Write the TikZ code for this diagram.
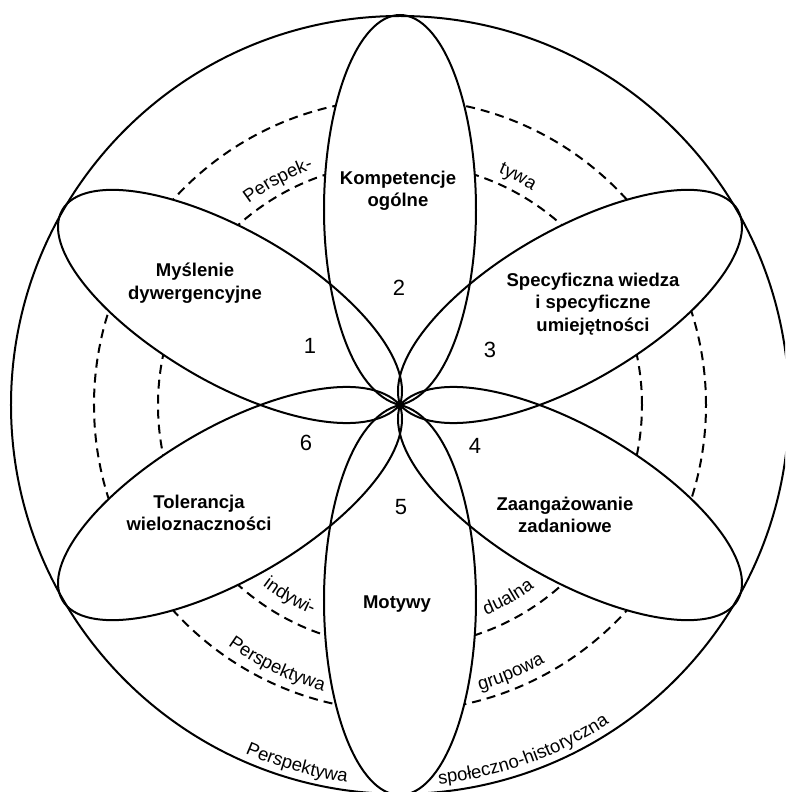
\documentclass[tikz,border=0pt]{standalone}
\usepackage{fontspec}
\setmainfont{Liberation Sans}
\usetikzlibrary{decorations.text}
\newcommand\petalfont{\fontsize{18.5}{22.5}\selectfont\bfseries}
\newcommand\numfont{\fontsize{22}{26}\selectfont}
\newcommand\arcfont{\fontsize{18.5}{22}\selectfont}
\begin{document}
\begin{tikzpicture}[x=1pt,y=1pt,
  line width=2pt,
  ring/.style={line width=2pt, dash pattern=on 9pt off 6pt},
  petal/.style={line width=2pt},
  lbl/.style={font=\petalfont, align=center, inner sep=0pt},
  num/.style={font=\numfont, inner sep=0pt},
  arctext/.style={decorate, decoration={text along path, text align=center, text={|\arcfont|#1}}}
]
\useasboundingbox (-400,-387) rectangle (385,405);
\clip (-400,-387) rectangle (385,405);
\fill[white] (-400,-387) rectangle (385,405);
% dashed rings
\draw[ring] (0,0) circle[radius=306];
\draw[ring] (0,0) circle[radius=242];
% petals (pointed at the centre, rounded at the outer end)
\foreach \a in {0,-60,-120,180,120,60}
  \fill[white, rotate=\a] (0,0) .. controls (-48.7,11.2) and (-76,105) .. (-76,195)
     arc[start angle=180, end angle=0, x radius=76, y radius=195]
     .. controls (76,105) and (48.7,11.2) .. (0,0) -- cycle;
\foreach \a in {0,-60,-120,180,120,60}
  \draw[petal, rotate=\a] (0,0) .. controls (-48.7,11.2) and (-76,105) .. (-76,195)
     arc[start angle=180, end angle=0, x radius=76, y radius=195]
     .. controls (76,105) and (48.7,11.2) .. (0,0) -- cycle;
% outer circle
\draw (0,0) circle[radius=389];
% petal labels
\node[lbl] (komp) at (-2,214) {Kompetencje\\ogólne};
\node[lbl] (mysl) at (-205,122) {Myślenie\\dywergencyjne};
\node[lbl] (spec) at (193,101) {Specyficzna wiedza\\i specyficzne\\umiejętności};
\node[lbl] (zaan) at (165,-110) {Zaangażowanie\\zadaniowe};
\node[lbl] (tole) at (-201,-108) {Tolerancja\\wieloznaczności};
\node[lbl] (moty) at (-3,-199) {Motywy};
% numbers
\node[num] (n1) at (-90,59) {1};
\node[num] (n2) at (-1,117) {2};
\node[num] (n3) at (90,55) {3};
\node[num] (n4) at (75,-41) {4};
\node[num] (n5) at (1,-102) {5};
\node[num] (n6) at (-94,-38) {6};
% arc texts
\path[arctext={Perspek-}] (143.5:252) arc[start angle=143.5, end angle=93.5, radius=252];
\path[arctext={tywa}] (87.7:252) arc[start angle=87.7, end angle=37.7, radius=252];
\path[arctext={indywi-}] (-145:227) arc[start angle=-145, end angle=-95, radius=227];
\path[arctext={dualna}] (-85.7:227) arc[start angle=-85.7, end angle=-35.7, radius=227];
\path[arctext={Perspektywa}] (-140.3:296) arc[start angle=-140.3, end angle=-90.3, radius=296];
\path[arctext={grupowa}] (-92.5:296) arc[start angle=-92.5, end angle=-42.5, radius=296];
\path[arctext={Perspektywa}] (-131:381) arc[start angle=-131, end angle=-81, radius=381];
\path[arctext={społeczno-historyczna}] (-95.4:381) arc[start angle=-95.4, end angle=-45.4, radius=381];
\end{tikzpicture}
\end{document}
